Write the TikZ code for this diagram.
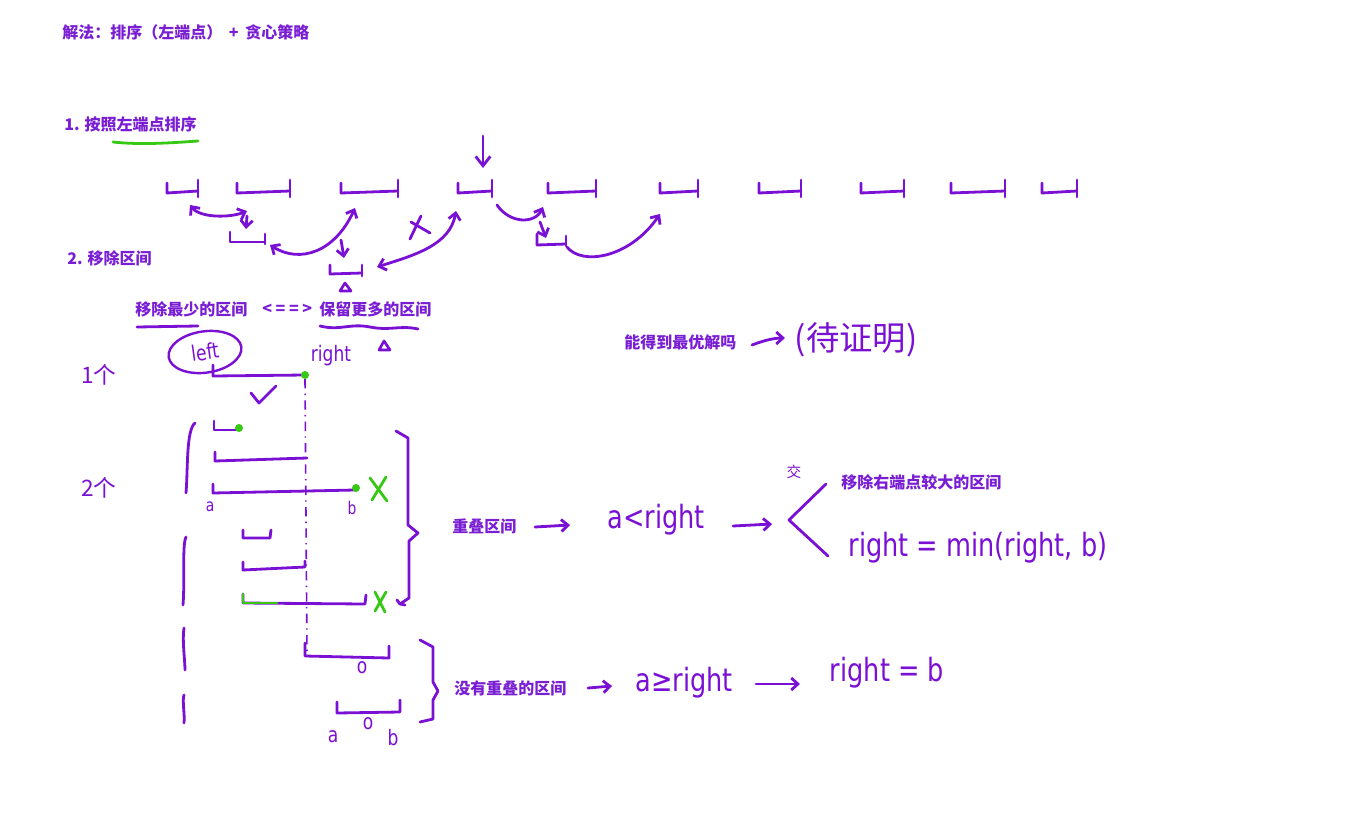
\documentclass[tikz,border=0pt]{standalone}
\usepackage{fontspec}
\newfontfamily\cjk{Noto Sans CJK SC}
\newfontfamily\handf{DejaVu Sans}[FakeStretch=0.8]
\usetikzlibrary{arrows.meta,shapes.geometric,decorations.pathmorphing}
\definecolor{pen}{RGB}{122,16,212}
\definecolor{ink}{RGB}{122,30,212}
\definecolor{grn}{RGB}{55,200,20}
\tikzset{
 stroke/.style={draw=pen, line width=2.1pt, line cap=round, line join=round},
 thinpen/.style={draw=pen, line width=1.4pt, line cap=round, line join=round},
 gstroke/.style={draw=grn, line width=2.1pt, line cap=round, line join=round},
 lbl/.style={text=ink, font=\cjk\bfseries\fontsize{12}{14}\selectfont, inner sep=0pt, anchor=west},
 hand/.style={text=pen, font=\handf\fontsize{24}{28}\selectfont, inner sep=0pt},
 handsm/.style={text=pen, font=\handf\fontsize{16}{19}\selectfont, inner sep=0pt},
 handxs/.style={text=pen, font=\handf\fontsize{13}{15}\selectfont, inner sep=0pt},
 handcjk/.style={text=pen, font=\cjk\fontsize{17}{20}\selectfont, inner sep=0pt},
 tipe/.style={-{Straight Barb[length=5pt,width=9pt]}},
 tipb/.style={{Straight Barb[length=5pt,width=9pt]}-{Straight Barb[length=5pt,width=9pt]}},
}
\begin{document}
\begin{tikzpicture}[x=0.75pt,y=-0.75pt]
\useasboundingbox (0,0) rectangle (1364,814);
\fill[white] (0,0) rectangle (1364,814);

% ---------- typed labels ----------
\node[lbl] (title) at (62,32) {解法：排序（左端点）\hspace{5pt}+\hspace{5pt}贪心策略};
\node[lbl] (s1) at (64,124) {1. 按照左端点排序};
\node[lbl] (s2) at (67,258) {2. 移除区间};
\node[lbl] (rm) at (135,309) {移除最少的区间};
\node[lbl] (eq) at (262,309) {< = = >};
\node[lbl] (keep) at (319,309) {保留更多的区间};
\node[lbl] (opt) at (624,342) {能得到最优解吗};
\node[lbl] (ovl) at (452,526) {重叠区间};
\node[lbl] (rmR) at (841,482) {移除右端点较大的区间};
\node[lbl] (novl) at (454,688) {没有重叠的区间};

% underlines
\draw[gstroke] (113,142) .. controls (140,145) and (170,143) .. (198,141);
\draw[stroke] (137,327) -- (198,326);
\draw[stroke] (320,326) .. controls (340,331) and (350,323) .. (370,327) .. controls (390,331) and (400,325) .. (418,329);
\draw[thinpen, line width=2pt] (379,350) -- (384,341) -- (390,350) -- cycle;

% ---------- top row of intervals ----------
\foreach \a/\b in {167/198, 237/290, 341/398, 458/492, 548/596, 660/698, 759/801, 861/904, 951/1005, 1042/1077}{
  \draw[stroke] (\a,183) -- (\a,193) -- (\b,191);
  \draw[stroke] (\b,180) -- (\b,197);
}
\coordinate (dtop) at (483,136);
\coordinate (dbot) at (483,168);
\draw[stroke,-{Straight Barb[length=7pt,width=11pt]}] (dtop) -- (dbot);

% arrows between intervals
\coordinate (p1) at (190,205);
\coordinate (p2) at (247,211);
\draw[stroke,tipb] (p1) .. controls (200,218) and (230,218) .. (p2);
\coordinate (d1a) at (247,216); \coordinate (d1b) at (246,229);
\draw[stroke,tipe] (d1a) -- (d1b);
\draw[stroke] (230,232) -- (230,242) -- (265,242);
\draw[stroke] (265,234) -- (265,244);
\coordinate (p3) at (270,245);
\coordinate (p4) at (355,208);
\draw[stroke,tipb] (p3) .. controls (300,264) and (335,252) .. (p4);
\coordinate (d2a) at (341,240); \coordinate (d2b) at (344,258);
\draw[stroke,tipe] (d2a) -- (d2b);
\draw[stroke] (330,265) -- (330,274) -- (362,273);
\draw[stroke] (362,265) -- (362,276);
\draw[thinpen, line width=2pt] (340,291) -- (345,283) -- (351,291) -- cycle;
\coordinate (p5) at (377,267);
\coordinate (p6) at (456,211);
\draw[stroke,tipb] (p5) .. controls (415,255) and (450,245) .. (p6);
\draw[stroke] (410,239) -- (421,216);
\draw[stroke] (411,222) -- (430,233);
\coordinate (p7) at (497,205);
\coordinate (p8) at (543,207);
\draw[stroke,tipe] (p7) .. controls (510,224) and (535,224) .. (p8);
\coordinate (d3a) at (540,222); \coordinate (d3b) at (546,238);
\draw[stroke,tipe] (d3a) -- (d3b);
\draw[stroke] (537,234) -- (537,245) -- (566,244);
\draw[stroke] (566,236) -- (566,246);
\coordinate (p9) at (567,247);
\coordinate (p10) at (660,214);
\draw[stroke,tipe] (p9) .. controls (582,266) and (630,258) .. (p10);

% ---------- proof note ----------
\coordinate (oa) at (752,345);
\coordinate (ob) at (785,338);
\draw[stroke,tipe] (oa) .. controls (765,340) and (775,338) .. (ob);
\node[text=pen, font=\cjk\fontsize{25}{30}\selectfont, inner sep=0pt] (proof) at (856,340) {(待证明)};

% ---------- left part ----------
\node[handcjk] (one) at (99,375) {1个};
\node[handcjk] (two) at (99,488) {2个};
\node[draw=pen, line width=1.8pt, ellipse, rotate=8, minimum width=55pt, minimum height=31pt, inner sep=0pt, handsm] (left) at (205,352) {left};
\node[handsm] (right) at (331,356) {right};

\draw[stroke] (213,365) -- (213,376) -- (305,375);
\fill[grn] (305,375) circle (4);
\draw[stroke] (251,393) -- (259,403) -- (276,386);
\coordinate (vt) at (305,379);
\coordinate (vb) at (307,656);
\draw[draw=pen, line width=1.2pt, dash pattern=on 7pt off 4pt on 1pt off 4pt] (vt) -- (vb);

% left bracket strokes
\draw[stroke] (195,423) .. controls (186,430) and (188,470) .. (186,493);
\draw[stroke] (186,537) .. controls (182,545) and (185,580) .. (183,605);
\draw[stroke] (184,628) .. controls (182,640) and (185,660) .. (185,670);
\draw[stroke] (184,695) .. controls (182,700) and (185,715) .. (184,723);

% group 1
\draw[stroke] (214,421) -- (214,430) -- (238,430);
\fill[grn] (239,428) circle (4);
\draw[stroke] (215,452) -- (215,461) -- (307,458);
\draw[stroke] (213,484) -- (213,493) -- (355,490);
\fill[grn] (356,488) circle (4);
\node[handxs] (a1) at (210,507) {a};
\node[handxs] (b1) at (352,508) {b};
\draw[gstroke] (370,478) -- (387,501);
\draw[gstroke] (386,477) -- (372,500);
\draw[stroke] (396,431) -- (408,438) -- (408,525) -- (418,533) -- (409,541) -- (409,598) -- (400,604);
\draw[stroke] (397,600) -- (400,604) -- (405,605);

% group 2
\draw[stroke] (243,530) -- (243,538) -- (270,538) -- (271,530);
\draw[stroke] (243,562) -- (243,570) -- (305,567) -- (305,561);
\draw[stroke] (243,594) -- (243,603) -- (365,604) -- (366,595);
\draw[gstroke] (243,594) -- (243,603) -- (277,603);
\draw[gstroke] (375,592) -- (385,612);
\draw[gstroke] (386,592) -- (375,611);

% non-overlapping
\draw[stroke] (305,643) -- (305,656) -- (389,658) -- (389,646);
\node[handsm] (o1) at (362,668) {o};
\draw[stroke] (337,702) -- (337,713) -- (400,712) -- (400,700);
\node[handsm] (a2) at (333,737) {a};
\node[handsm] (o2) at (368,724) {o};
\node[handsm] (b2) at (393,738) {b};
\draw[stroke] (420,640) -- (433,647) -- (433,682) -- (438,691) -- (433,700) -- (433,719) -- (420,722);

% ---------- right part ----------
\coordinate (r1) at (535,527); \coordinate (r2) at (570,525);
\draw[stroke,tipe] (r1) -- (r2);
\node[hand] (cmp1) at (656,520) {a<right};
\coordinate (r3) at (733,526); \coordinate (r4) at (772,524);
\draw[stroke,tipe] (r3) -- (r4);
\coordinate (bt) at (826,484); \coordinate (bm) at (789,520); \coordinate (bb) at (828,556);
\draw[stroke] (bt) -- (bm) -- (bb);
\node[handcjk, font=\cjk\fontsize{11}{13}\selectfont] (jiao) at (794,472) {交};
\node[hand] (upd1) at (978,548) {right = min(right, b)};

\coordinate (n1) at (588,688); \coordinate (n2) at (612,686);
\draw[stroke,tipe] (n1) -- (n2);
\node[hand] (cmp2) at (684,683) {a≥right};
\coordinate (n3) at (756,684); \coordinate (n4) at (800,684);
\draw[stroke,tipe] (n3) -- (n4);
\node[hand] (upd2) at (887,673) {right = b};
\end{tikzpicture}
\end{document}
